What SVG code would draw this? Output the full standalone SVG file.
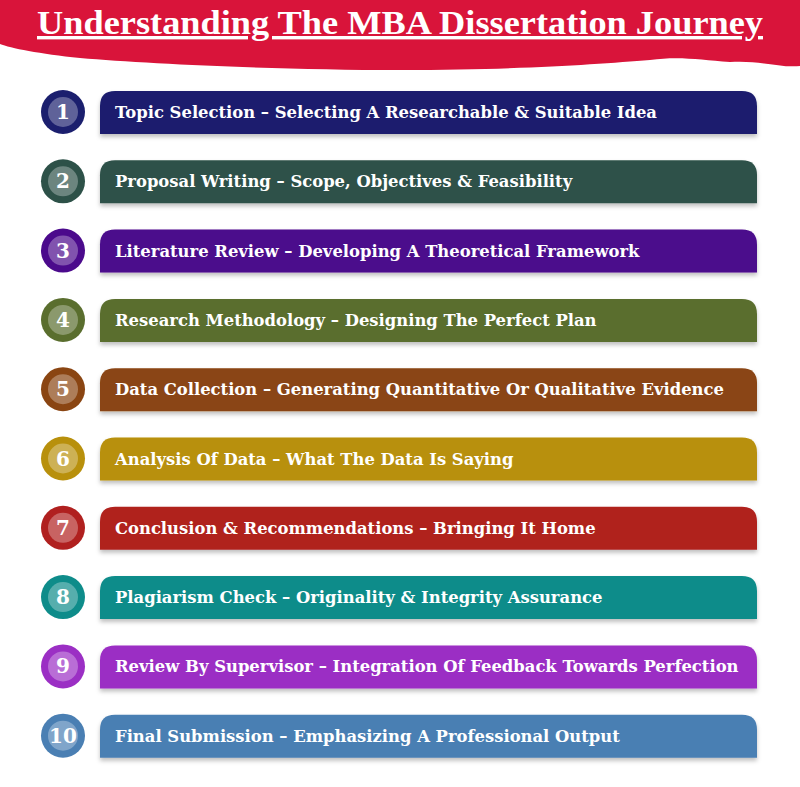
<svg xmlns="http://www.w3.org/2000/svg" width="800" height="787" viewBox="0 0 800 787">
<style>
.t{font-family:"DejaVu Serif","Liberation Serif",serif;font-weight:bold;font-size:16.4px;fill:#fff}
.n{font-family:"DejaVu Serif","Liberation Serif",serif;font-weight:bold;font-size:20px;fill:#fff;text-anchor:middle}
.in{fill:#fff;fill-opacity:0.3}
</style>
<defs><filter id="sh" x="-5%" y="-20%" width="110%" height="160%"><feDropShadow dx="0" dy="3" stdDeviation="2" flood-color="#000" flood-opacity="0.25"/></filter></defs>
<rect width="800" height="787" fill="#fff"/>
<path d="M0 0H800V66C780 68 760 60 730 62C700 60 680 56 650 60C600 64 520 70 400 70C280 70 150 64 80 58C40 54 10 48 0 44Z" fill="#d9143a"/>
<text x="400" y="34" text-anchor="middle" font-family="Liberation Serif,serif" font-weight="bold" font-size="34" fill="#fff" textLength="726" lengthAdjust="spacingAndGlyphs" text-decoration="underline">Understanding The MBA Dissertation Journey</text>
<g id="nodes">
<g id="n1"><path d="M115 91H742Q757 91 757 106V134H100V106Q100 91 115 91Z" fill="#1b1f6e" filter="url(#sh)"/><circle cx="63" cy="112" r="22" fill="#1b1f6e"/><circle cx="63" cy="112" r="15" class="in"/><text x="63" y="119" class="n">1</text><text x="115" y="118" class="t">Topic Selection – Selecting A Researchable &amp; Suitable Idea</text></g>
<g id="n2" transform="translate(0,69.3)"><path d="M115 91H742Q757 91 757 106V134H100V106Q100 91 115 91Z" fill="#2d5148" filter="url(#sh)"/><circle cx="63" cy="112" r="22" fill="#2d5148"/><circle cx="63" cy="112" r="15" class="in"/><text x="63" y="119" class="n">2</text><text x="115" y="118" class="t">Proposal Writing – Scope, Objectives &amp; Feasibility</text></g>
<g id="n3" transform="translate(0,138.6)"><path d="M115 91H742Q757 91 757 106V134H100V106Q100 91 115 91Z" fill="#4b0a8c" filter="url(#sh)"/><circle cx="63" cy="112" r="22" fill="#4b0a8c"/><circle cx="63" cy="112" r="15" class="in"/><text x="63" y="119" class="n">3</text><text x="115" y="118" class="t">Literature Review – Developing A Theoretical Framework</text></g>
<g id="n4" transform="translate(0,207.9)"><path d="M115 91H742Q757 91 757 106V134H100V106Q100 91 115 91Z" fill="#5a6e2e" filter="url(#sh)"/><circle cx="63" cy="112" r="22" fill="#5a6e2e"/><circle cx="63" cy="112" r="15" class="in"/><text x="63" y="119" class="n">4</text><text x="115" y="118" class="t">Research Methodology – Designing The Perfect Plan</text></g>
<g id="n5" transform="translate(0,277.2)"><path d="M115 91H742Q757 91 757 106V134H100V106Q100 91 115 91Z" fill="#8a4512" filter="url(#sh)"/><circle cx="63" cy="112" r="22" fill="#8a4512"/><circle cx="63" cy="112" r="15" class="in"/><text x="63" y="119" class="n">5</text><text x="115" y="118" class="t">Data Collection – Generating Quantitative Or Qualitative Evidence</text></g>
<g id="n6" transform="translate(0,346.5)"><path d="M115 91H742Q757 91 757 106V134H100V106Q100 91 115 91Z" fill="#b8900c" filter="url(#sh)"/><circle cx="63" cy="112" r="22" fill="#b8900c"/><circle cx="63" cy="112" r="15" class="in"/><text x="63" y="119" class="n">6</text><text x="115" y="118" class="t">Analysis Of Data – What The Data Is Saying</text></g>
<g id="n7" transform="translate(0,415.8)"><path d="M115 91H742Q757 91 757 106V134H100V106Q100 91 115 91Z" fill="#b0201f" filter="url(#sh)"/><circle cx="63" cy="112" r="22" fill="#b0201f"/><circle cx="63" cy="112" r="15" class="in"/><text x="63" y="119" class="n">7</text><text x="115" y="118" class="t">Conclusion &amp; Recommendations – Bringing It Home</text></g>
<g id="n8" transform="translate(0,485.1)"><path d="M115 91H742Q757 91 757 106V134H100V106Q100 91 115 91Z" fill="#0e8c8a" filter="url(#sh)"/><circle cx="63" cy="112" r="22" fill="#0e8c8a"/><circle cx="63" cy="112" r="15" class="in"/><text x="63" y="119" class="n">8</text><text x="115" y="118" class="t">Plagiarism Check – Originality &amp; Integrity Assurance</text></g>
<g id="n9" transform="translate(0,554.4)"><path d="M115 91H742Q757 91 757 106V134H100V106Q100 91 115 91Z" fill="#9b2fc4" filter="url(#sh)"/><circle cx="63" cy="112" r="22" fill="#9b2fc4"/><circle cx="63" cy="112" r="15" class="in"/><text x="63" y="119" class="n">9</text><text x="115" y="118" class="t">Review By Supervisor – Integration Of Feedback Towards Perfection</text></g>
<g id="n10" transform="translate(0,623.7)"><path d="M115 91H742Q757 91 757 106V134H100V106Q100 91 115 91Z" fill="#4a7fb3" filter="url(#sh)"/><circle cx="63" cy="112" r="22" fill="#4a7fb3"/><circle cx="63" cy="112" r="15" class="in"/><text x="63" y="119" class="n" font-size="17">10</text><text x="115" y="118" class="t">Final Submission – Emphasizing A Professional Output</text></g>
</g>
<g id="connectors"/>
</svg>
